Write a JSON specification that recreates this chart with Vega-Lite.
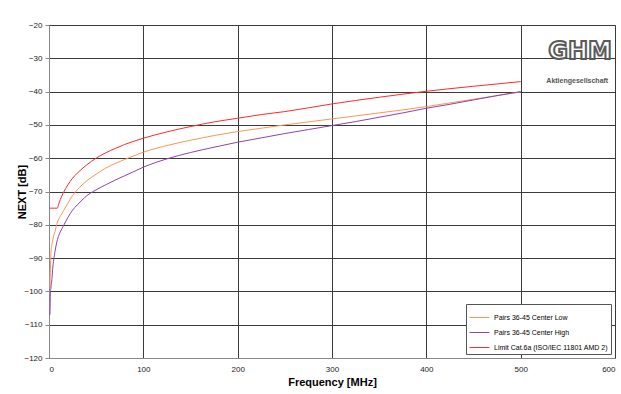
{
  "$schema": "https://vega.github.io/schema/vega-lite/v6.json",
  "width": 566,
  "height": 333,
  "autosize": {"type": "none"},
  "padding": {"left": 49, "top": 25, "right": 6, "bottom": 36},
  "background": "white",
  "config": {
    "font": "Liberation Sans",
    "view": {"stroke": "#999", "strokeWidth": 1},
    "axis": {
      "labelFont": "Liberation Sans",
      "labelFontSize": 8,
      "labelColor": "#222",
      "titleFont": "Liberation Sans",
      "titleFontSize": 11,
      "titleFontWeight": "bold",
      "titleColor": "#000",
      "gridColor": "#3a3a3a",
      "gridOpacity": 1,
      "gridWidth": 1,
      "domainColor": "#888",
      "tickColor": "#888",
      "tickSize": 4,
      "labelOverlap": false
    }
  },
  "datasets": {
    "curves": [
      {"s": "Pairs 36-45 Center Low", "f": 1, "v": -99},
      {"s": "Pairs 36-45 Center Low", "f": 1.5, "v": -93},
      {"s": "Pairs 36-45 Center Low", "f": 2, "v": -89},
      {"s": "Pairs 36-45 Center Low", "f": 3, "v": -86},
      {"s": "Pairs 36-45 Center Low", "f": 4, "v": -84.5},
      {"s": "Pairs 36-45 Center Low", "f": 5, "v": -83.3},
      {"s": "Pairs 36-45 Center Low", "f": 6.4, "v": -82},
      {"s": "Pairs 36-45 Center Low", "f": 8, "v": -80},
      {"s": "Pairs 36-45 Center Low", "f": 10, "v": -78.5},
      {"s": "Pairs 36-45 Center Low", "f": 15, "v": -76},
      {"s": "Pairs 36-45 Center Low", "f": 20, "v": -73.5},
      {"s": "Pairs 36-45 Center Low", "f": 25, "v": -71.2},
      {"s": "Pairs 36-45 Center Low", "f": 30, "v": -69.5},
      {"s": "Pairs 36-45 Center Low", "f": 40, "v": -66.8},
      {"s": "Pairs 36-45 Center Low", "f": 50, "v": -64.8},
      {"s": "Pairs 36-45 Center Low", "f": 60, "v": -63},
      {"s": "Pairs 36-45 Center Low", "f": 70, "v": -61.6},
      {"s": "Pairs 36-45 Center Low", "f": 80, "v": -60.4},
      {"s": "Pairs 36-45 Center Low", "f": 90, "v": -59.3},
      {"s": "Pairs 36-45 Center Low", "f": 100, "v": -58.2},
      {"s": "Pairs 36-45 Center Low", "f": 125, "v": -56.2},
      {"s": "Pairs 36-45 Center Low", "f": 150, "v": -54.6},
      {"s": "Pairs 36-45 Center Low", "f": 175, "v": -53.2},
      {"s": "Pairs 36-45 Center Low", "f": 200, "v": -52},
      {"s": "Pairs 36-45 Center Low", "f": 225, "v": -51},
      {"s": "Pairs 36-45 Center Low", "f": 250, "v": -50},
      {"s": "Pairs 36-45 Center Low", "f": 275, "v": -49.1},
      {"s": "Pairs 36-45 Center Low", "f": 300, "v": -48.2},
      {"s": "Pairs 36-45 Center Low", "f": 325, "v": -47.3},
      {"s": "Pairs 36-45 Center Low", "f": 350, "v": -46.4},
      {"s": "Pairs 36-45 Center Low", "f": 375, "v": -45.5},
      {"s": "Pairs 36-45 Center Low", "f": 400, "v": -44.5},
      {"s": "Pairs 36-45 Center Low", "f": 425, "v": -43.4},
      {"s": "Pairs 36-45 Center Low", "f": 450, "v": -42.3},
      {"s": "Pairs 36-45 Center Low", "f": 475, "v": -41.2},
      {"s": "Pairs 36-45 Center Low", "f": 500, "v": -40.1},

      {"s": "Pairs 36-45 Center High", "f": 1, "v": -107},
      {"s": "Pairs 36-45 Center High", "f": 1.5, "v": -101},
      {"s": "Pairs 36-45 Center High", "f": 2, "v": -99},
      {"s": "Pairs 36-45 Center High", "f": 3, "v": -96.5},
      {"s": "Pairs 36-45 Center High", "f": 4, "v": -93},
      {"s": "Pairs 36-45 Center High", "f": 5, "v": -90.5},
      {"s": "Pairs 36-45 Center High", "f": 6.4, "v": -88},
      {"s": "Pairs 36-45 Center High", "f": 8, "v": -85.5},
      {"s": "Pairs 36-45 Center High", "f": 10, "v": -83.5},
      {"s": "Pairs 36-45 Center High", "f": 15, "v": -80.5},
      {"s": "Pairs 36-45 Center High", "f": 20, "v": -77.8},
      {"s": "Pairs 36-45 Center High", "f": 25, "v": -75.6},
      {"s": "Pairs 36-45 Center High", "f": 30, "v": -74},
      {"s": "Pairs 36-45 Center High", "f": 35, "v": -72.6},
      {"s": "Pairs 36-45 Center High", "f": 40, "v": -71.3},
      {"s": "Pairs 36-45 Center High", "f": 50, "v": -69.5},
      {"s": "Pairs 36-45 Center High", "f": 60, "v": -68},
      {"s": "Pairs 36-45 Center High", "f": 70, "v": -66.6},
      {"s": "Pairs 36-45 Center High", "f": 80, "v": -65.3},
      {"s": "Pairs 36-45 Center High", "f": 90, "v": -64},
      {"s": "Pairs 36-45 Center High", "f": 100, "v": -62.7},
      {"s": "Pairs 36-45 Center High", "f": 125, "v": -60.2},
      {"s": "Pairs 36-45 Center High", "f": 150, "v": -58.3},
      {"s": "Pairs 36-45 Center High", "f": 175, "v": -56.7},
      {"s": "Pairs 36-45 Center High", "f": 200, "v": -55.2},
      {"s": "Pairs 36-45 Center High", "f": 225, "v": -53.9},
      {"s": "Pairs 36-45 Center High", "f": 250, "v": -52.6},
      {"s": "Pairs 36-45 Center High", "f": 275, "v": -51.4},
      {"s": "Pairs 36-45 Center High", "f": 300, "v": -50.2},
      {"s": "Pairs 36-45 Center High", "f": 325, "v": -49},
      {"s": "Pairs 36-45 Center High", "f": 350, "v": -47.7},
      {"s": "Pairs 36-45 Center High", "f": 375, "v": -46.4},
      {"s": "Pairs 36-45 Center High", "f": 400, "v": -45},
      {"s": "Pairs 36-45 Center High", "f": 425, "v": -43.8},
      {"s": "Pairs 36-45 Center High", "f": 450, "v": -42.5},
      {"s": "Pairs 36-45 Center High", "f": 475, "v": -41.2},
      {"s": "Pairs 36-45 Center High", "f": 500, "v": -40},

      {"s": "Limit Cat.6a (ISO/IEC 11801 AMD 2)", "f": 1, "v": -75},
      {"s": "Limit Cat.6a (ISO/IEC 11801 AMD 2)", "f": 8.9, "v": -75},
      {"s": "Limit Cat.6a (ISO/IEC 11801 AMD 2)", "f": 10, "v": -74},
      {"s": "Limit Cat.6a (ISO/IEC 11801 AMD 2)", "f": 12, "v": -72.4},
      {"s": "Limit Cat.6a (ISO/IEC 11801 AMD 2)", "f": 15, "v": -70.5},
      {"s": "Limit Cat.6a (ISO/IEC 11801 AMD 2)", "f": 20, "v": -68},
      {"s": "Limit Cat.6a (ISO/IEC 11801 AMD 2)", "f": 25, "v": -66},
      {"s": "Limit Cat.6a (ISO/IEC 11801 AMD 2)", "f": 30, "v": -64.5},
      {"s": "Limit Cat.6a (ISO/IEC 11801 AMD 2)", "f": 40, "v": -62},
      {"s": "Limit Cat.6a (ISO/IEC 11801 AMD 2)", "f": 50, "v": -60},
      {"s": "Limit Cat.6a (ISO/IEC 11801 AMD 2)", "f": 60, "v": -58.4},
      {"s": "Limit Cat.6a (ISO/IEC 11801 AMD 2)", "f": 70, "v": -57.1},
      {"s": "Limit Cat.6a (ISO/IEC 11801 AMD 2)", "f": 80, "v": -55.9},
      {"s": "Limit Cat.6a (ISO/IEC 11801 AMD 2)", "f": 90, "v": -54.9},
      {"s": "Limit Cat.6a (ISO/IEC 11801 AMD 2)", "f": 100, "v": -54},
      {"s": "Limit Cat.6a (ISO/IEC 11801 AMD 2)", "f": 125, "v": -52.1},
      {"s": "Limit Cat.6a (ISO/IEC 11801 AMD 2)", "f": 150, "v": -50.5},
      {"s": "Limit Cat.6a (ISO/IEC 11801 AMD 2)", "f": 175, "v": -49.1},
      {"s": "Limit Cat.6a (ISO/IEC 11801 AMD 2)", "f": 200, "v": -48},
      {"s": "Limit Cat.6a (ISO/IEC 11801 AMD 2)", "f": 225, "v": -46.9},
      {"s": "Limit Cat.6a (ISO/IEC 11801 AMD 2)", "f": 250, "v": -46},
      {"s": "Limit Cat.6a (ISO/IEC 11801 AMD 2)", "f": 300, "v": -43.7},
      {"s": "Limit Cat.6a (ISO/IEC 11801 AMD 2)", "f": 350, "v": -41.7},
      {"s": "Limit Cat.6a (ISO/IEC 11801 AMD 2)", "f": 400, "v": -39.9},
      {"s": "Limit Cat.6a (ISO/IEC 11801 AMD 2)", "f": 450, "v": -38.4},
      {"s": "Limit Cat.6a (ISO/IEC 11801 AMD 2)", "f": 500, "v": -37}
    ],
    "logo": [
      {"f": 563, "v": -28, "t": "GHM", "k": "big"},
      {"f": 560, "v": -36.8, "t": "Aktiengesellschaft", "k": "small"}
    ]
  },
  "encoding": {
    "x": {
      "field": "f", "type": "quantitative",
      "scale": {"domain": [0, 600], "nice": false},
      "axis": {
        "title": "Frequency [MHz]",
        "values": [0, 100, 200, 300, 400, 500, 600],
        "grid": true,
        "labelPadding": 7,
        "titlePadding": 3,
        "tickSize": 0
      }
    },
    "y": {
      "field": "v", "type": "quantitative",
      "scale": {"domain": [-120, -20], "nice": false},
      "axis": {
        "title": "NEXT [dB]",
        "values": [-120, -110, -100, -90, -80, -70, -60, -50, -40, -30, -20],
        "grid": true,
        "labelPadding": 3,
        "titlePadding": -4
      }
    }
  },
  "layer": [
    {
      "data": {"name": "curves"},
      "mark": {"type": "line", "clip": true, "interpolate": "monotone"},
      "encoding": {
        "color": {
          "field": "s", "type": "nominal",
          "sort": null,
          "scale": {
            "domain": ["Pairs 36-45 Center Low", "Pairs 36-45 Center High", "Limit Cat.6a (ISO/IEC 11801 AMD 2)"],
            "range": ["#FF9455", "#8E44A8", "#FF2A2A"]
          },
          "legend": {
            "title": null,
            "orient": "bottom-right",
            "offset": 4,
            "fillColor": "white",
            "strokeColor": "#555",
            "padding": 3,
            "symbolType": "stroke",
            "symbolSize": 400,
            "symbolStrokeWidth": 1.5,
            "labelFont": "Liberation Sans",
            "labelFontSize": 7,
            "labelColor": "#000",
            "labelOffset": 4,
            "rowPadding": 1,
            "labelLimit": 200
          }
        },
        "strokeWidth": {
          "field": "s", "type": "nominal",
          "scale": {
            "domain": ["Pairs 36-45 Center Low", "Pairs 36-45 Center High", "Limit Cat.6a (ISO/IEC 11801 AMD 2)"],
            "range": [1, 1, 2]
          },
          "legend": null
        }
      }
    },
    {
      "data": {"name": "logo"},
      "transform": [{"filter": "datum.k == 'big'"}],
      "mark": {"type": "text", "font": "DejaVu Sans", "fontSize": 24, "fontWeight": "bold", "fill": "white", "stroke": "#5a5a5a", "strokeWidth": 2, "align": "center", "baseline": "middle"},
      "encoding": {
        "text": {"field": "t"}
      }
    },
    {
      "data": {"name": "logo"},
      "transform": [{"filter": "datum.k == 'small'"}],
      "mark": {"type": "text", "font": "Liberation Sans", "fontSize": 7, "fontWeight": "bold", "fill": "#555", "align": "center", "baseline": "middle"},
      "encoding": {
        "text": {"field": "t"}
      }
    }
  ]
}
